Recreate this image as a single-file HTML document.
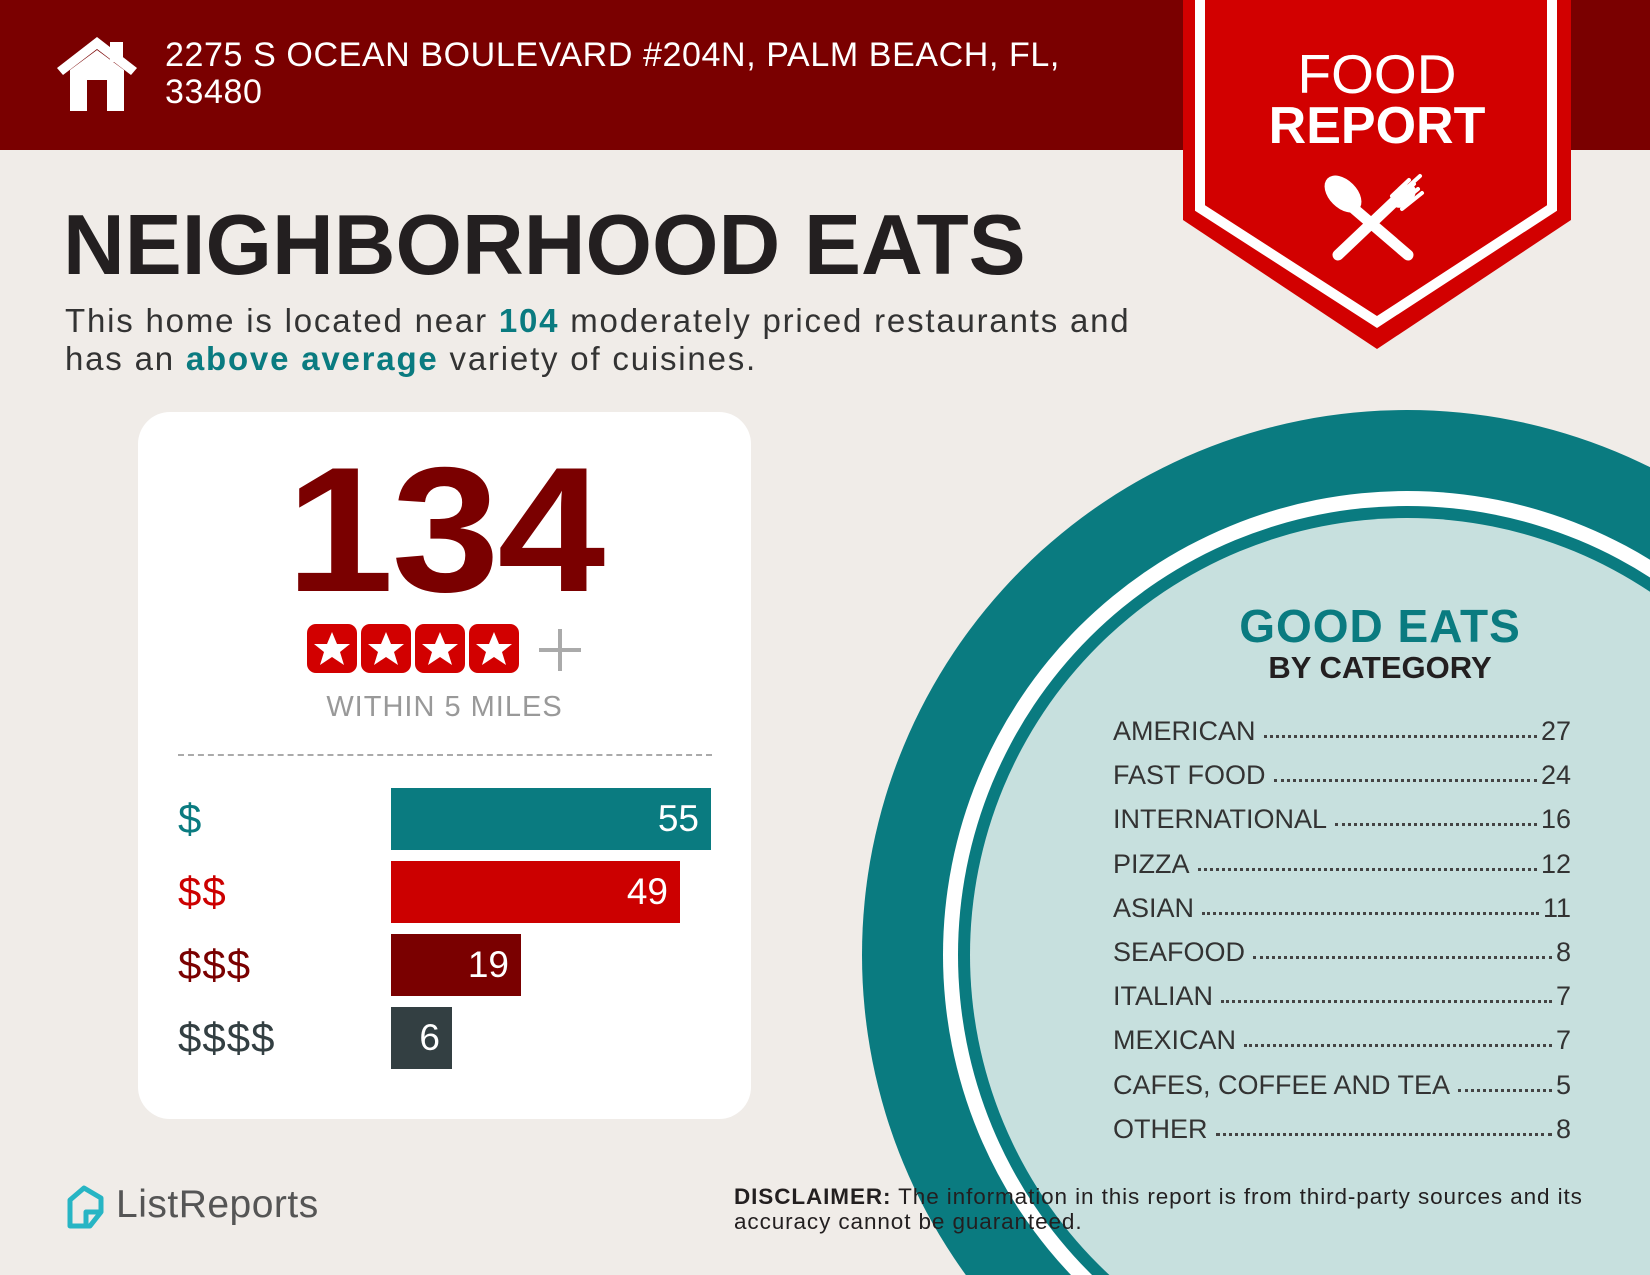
<!DOCTYPE html>
<html><head><meta charset="utf-8"><style>
*{margin:0;padding:0;box-sizing:border-box}
html,body{width:1650px;height:1275px;overflow:hidden}
body{background:#f0ece8;font-family:"Liberation Sans",sans-serif;position:relative}
.abs{position:absolute}
.hdr{left:0;top:0;width:1650px;height:150px;background:#7a0000}
.addr{left:165px;top:37px;color:#fff;font-size:34px;line-height:37px;letter-spacing:0.6px;white-space:nowrap}
.title{left:63px;top:197px;font-size:85.5px;font-weight:bold;color:#231f20;white-space:nowrap}
.sub{left:65px;top:302px;font-size:33px;line-height:38px;color:#333;white-space:nowrap;letter-spacing:1.8px}
.sub b{color:#0a7b80}
.card{left:138px;top:412px;width:613px;height:707px;background:#fff;border-radius:32px}
.big{left:138px;width:613px;top:440px;text-align:center;font-size:178px;font-weight:bold;color:#7a0000;line-height:180px;letter-spacing:-2px;transform:scaleX(1.09);transform-origin:306px 0}
.within{left:138px;width:613px;top:691px;text-align:center;font-size:29px;color:#999;letter-spacing:1px}
.dash{left:178px;top:754px;width:534px;border-top:2px dashed #aaa}
.lab{left:178px;font-size:42px;line-height:62px;letter-spacing:1px}
.bar{left:391px;height:62px;color:#fff;font-size:37px;line-height:62px;text-align:right;padding-right:12px}
.list{left:1113px;top:716px;width:458px}
.row{display:flex;align-items:baseline;height:44.2px;font-size:27px;color:#333}
.row .d{flex:1;border-bottom:3px dotted #444;margin:0 4px 0 8px;position:relative;top:-2px}
.disc{left:734px;top:1184px;font-size:22.5px;line-height:25px;color:#231f20;white-space:nowrap;letter-spacing:0.9px}
</style></head><body>
<div class="abs hdr"></div>
<svg class="abs" style="left:0;top:0" width="1650" height="1275">
<circle cx="1407" cy="955" r="545" fill="#0a7b80"/>
<circle cx="1407" cy="955" r="464" fill="#fff"/>
<circle cx="1407" cy="955" r="449" fill="#0a7b80"/>
<circle cx="1407" cy="955" r="437" fill="#c7e0de"/>
<polygon points="57,68 97,37 137,68 131,75 97,49 63,75" fill="#fff"/>
<rect x="110" y="42" width="13" height="20" fill="#fff"/>
<polygon points="70,70 97,50 124,70 124,111 70,111" fill="#fff"/>
<rect x="87" y="80" width="20" height="31" fill="#7a0000"/>
<polygon points="1183,0 1571,0 1571,220 1377,349 1183,220" fill="#d20000"/>
<polyline points="1200,0 1200,208 1377,322 1552,208 1552,0" fill="none" stroke="#fff" stroke-width="10"/>
<g stroke="#fff" stroke-linecap="round" fill="#fff">
<line x1="1352" y1="207" x2="1408" y2="255" stroke-width="11"/>
<ellipse cx="1343" cy="194" rx="14" ry="22" transform="rotate(-45 1343 194)" stroke="none"/>
<line x1="1338" y1="255" x2="1396" y2="200" stroke-width="11"/>
<path d="M1388,205 L1420,176 M1392,196 L1409,180 M1395,200 L1414,184 M1399,204 L1418,189 M1402,209 L1422,193" stroke-width="4"/>
<ellipse cx="1404" cy="196" rx="14" ry="9" transform="rotate(-45 1404 196)" stroke="none"/>
</g>
<path d="M70,1200 L84,1188 L101,1198 L101,1212 L90,1226 L70,1226 Z" fill="none" stroke="#27b5c4" stroke-width="5" stroke-linejoin="round"/>
<path d="M86,1226 L86,1212 L101,1212" fill="none" stroke="#27b5c4" stroke-width="5" stroke-linejoin="round"/>
</svg>
<div class="abs addr">2275 S OCEAN BOULEVARD #204N, PALM BEACH, FL,<br>33480</div>
<div class="abs" style="left:1183px;width:388px;top:50px;text-align:center;color:#fff;font-size:55px;line-height:48px">FOOD</div>
<div class="abs" style="left:1183px;width:388px;top:100px;text-align:center;color:#fff;font-size:52px;font-weight:bold;line-height:52px">REPORT</div>
<div class="abs title">NEIGHBORHOOD EATS</div>
<div class="abs sub">This home is located near <b>104</b> moderately priced restaurants and<br>has an <b>above average</b> variety of cuisines.</div>
<div class="abs card"></div>
<div class="abs big">134</div>
<svg class="abs" style="left:305px;top:624px" width="285" height="52">
<defs><g id="s"><rect x="0" y="0" width="50" height="49" rx="9" fill="#d20000"/><polygon points="25,8 30,20 43,20 33,28 37,41 25,33 13,41 17,28 7,20 20,20" fill="#fff"/></g></defs>
<use href="#s" x="2"/><use href="#s" x="56"/><use href="#s" x="110"/><use href="#s" x="164"/>
<rect x="234" y="24" width="42" height="4" fill="#aaa"/><rect x="253" y="5" width="4" height="42" fill="#aaa"/>
</svg>
<div class="abs within">WITHIN 5 MILES</div>
<div class="abs dash"></div>
<div class="abs lab" style="top:788px;color:#0a7b80">$</div>
<div class="abs lab" style="top:861px;color:#cc0000">$$</div>
<div class="abs lab" style="top:934px;color:#7a0000">$$$</div>
<div class="abs lab" style="top:1007px;color:#333f42">$$$$</div>
<div class="abs bar" style="top:788px;width:320px;background:#0a7b80">55</div>
<div class="abs bar" style="top:861px;width:289px;background:#cc0000">49</div>
<div class="abs bar" style="top:934px;width:130px;background:#7a0000">19</div>
<div class="abs bar" style="top:1007px;width:61px;background:#333f42">6</div>
<div class="abs" style="left:1150px;width:460px;top:601px;text-align:center;font-size:46px;font-weight:bold;color:#0a7b80;line-height:50px;letter-spacing:1px">GOOD EATS</div>
<div class="abs" style="left:1150px;width:460px;top:650px;text-align:center;font-size:31px;font-weight:bold;color:#231f20;line-height:36px">BY CATEGORY</div>
<div class="abs list">
<div class="row"><span>AMERICAN</span><span class="d"></span><span>27</span></div>
<div class="row"><span>FAST FOOD</span><span class="d"></span><span>24</span></div>
<div class="row"><span>INTERNATIONAL</span><span class="d"></span><span>16</span></div>
<div class="row"><span>PIZZA</span><span class="d"></span><span>12</span></div>
<div class="row"><span>ASIAN</span><span class="d"></span><span>11</span></div>
<div class="row"><span>SEAFOOD</span><span class="d"></span><span>8</span></div>
<div class="row"><span>ITALIAN</span><span class="d"></span><span>7</span></div>
<div class="row"><span>MEXICAN</span><span class="d"></span><span>7</span></div>
<div class="row"><span>CAFES, COFFEE AND TEA</span><span class="d"></span><span>5</span></div>
<div class="row"><span>OTHER</span><span class="d"></span><span>8</span></div>
</div>
<div class="abs" style="left:116px;top:1183px;font-size:39px;color:#555;letter-spacing:0.5px">ListReports</div>
<div class="abs disc"><b>DISCLAIMER:</b> The information in this report is from third-party sources and its<br>accuracy cannot be guaranteed.</div>
</body></html>
